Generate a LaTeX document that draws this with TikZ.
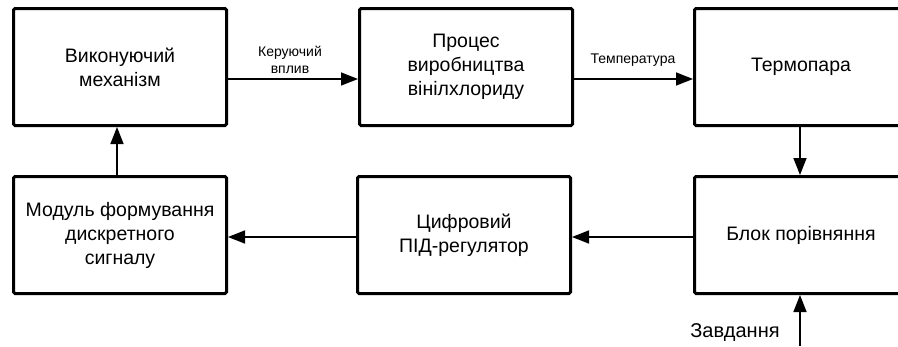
\documentclass[tikz,border=0pt]{standalone}
\usepackage{fontspec}
\setmainfont{Liberation Sans}
\usetikzlibrary{arrows.meta}
\begin{document}
\begin{tikzpicture}[x=1pt,y=-1pt,
  box/.style={draw, line width=3pt, rounded corners=1.5pt, minimum width=213pt, minimum height=117pt, align=center, inner sep=0pt, font=\fontsize{19.5}{24}\selectfont},
  arr/.style={line width=1.5pt, -{Triangle[length=17pt,width=13pt]}},
  lab/.style={align=center, inner sep=0pt, font=\fontsize{14}{17}\selectfont}]
\useasboundingbox (0,0) rectangle (898,346);
\clip (0,0) rectangle (898,346);
\node[box] (b1) at (120,67) {Виконуючий\\механізм};
\node[box] (b2) at (466,67) {Процес\\виробництва\\вінілхлориду};
\node[box] (b3) at (801,67) {Термопара};
\node[box] (b4) at (120,235) {Модуль формування\\дискретного\\сигналу};
\node[box] (b5) at (464,235) {Цифровий\\ПІД-регулятор};
\node[box] (b6) at (801,235) {Блок порівняння};
\node[lab] (l1) at (290,60) {Керуючий\\вплив};
\node[lab] (l2) at (633,60) {Температура};
\node[inner sep=0pt, font=\fontsize{20}{24}\selectfont] (l3) at (735,333) {Завдання};
\coordinate (z) at (800,346);
\draw[arr] ([yshift=-12pt]b1.east) -- ([yshift=-12pt]b2.west);
\draw[arr] ([yshift=-12pt]b2.east) -- ([yshift=-12pt]b3.west);
\draw[arr] ([xshift=-1pt]b3.south) -- ([xshift=-1pt]b6.north);
\draw[arr] ([yshift=-2pt]b6.west) -- ([yshift=-2pt]b5.east);
\draw[arr] ([yshift=-2pt]b5.west) -- ([yshift=-2pt]b4.east);
\draw[arr] ([xshift=-3pt]b4.north) -- ([xshift=-3pt]b1.south);
\draw[arr] (z) -- (z |- b6.south);
\end{tikzpicture}
\end{document}
